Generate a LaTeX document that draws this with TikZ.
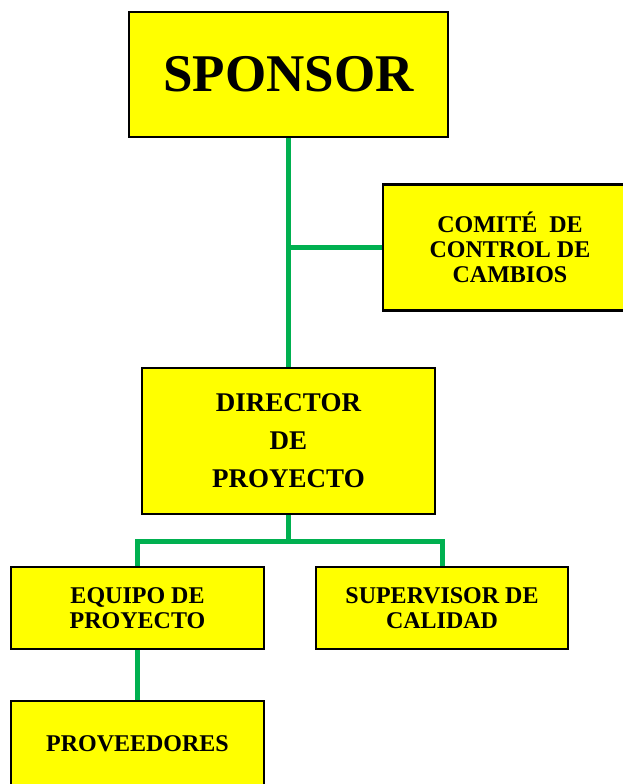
\documentclass[tikz,border=0pt]{standalone}
\usepackage{fontspec}
\setmainfont{Liberation Serif}
\definecolor{boxyellow}{HTML}{FFFF00}
\definecolor{linegreen}{HTML}{00B050}
\tikzset{
  orgbox/.style={draw=black, line width=2.4pt, fill=boxyellow, align=center, inner sep=0pt},
  link/.style={draw=linegreen, line width=5pt}
}
\begin{document}
\begin{tikzpicture}[x=1pt,y=-1pt]
\useasboundingbox (0,0) rectangle (623,784);
\node[orgbox, minimum width=319pt, minimum height=125pt, font=\fontsize{53}{60}\selectfont\bfseries] (sponsor) at (288.5,74.5) {SPONSOR};
\node[orgbox, minimum width=254pt, minimum height=126pt, font=\fontsize{24}{25}\selectfont\bfseries] (comite) at (510,247.5) {COMITÉ\ \ DE\\CONTROL DE\\CAMBIOS};
\node[orgbox, minimum width=293pt, minimum height=146pt, font=\fontsize{27}{38}\selectfont\bfseries] (director) at (288.5,441) {DIRECTOR\\DE\\PROYECTO};
\node[orgbox, minimum width=253pt, minimum height=82pt, font=\fontsize{24}{25}\selectfont\bfseries] (equipo) at (137.5,608) {EQUIPO DE\\PROYECTO};
\node[orgbox, minimum width=252pt, minimum height=82pt, font=\fontsize{24}{25}\selectfont\bfseries] (supervisor) at (442,608) {SUPERVISOR DE\\CALIDAD};
\node[orgbox, minimum width=253pt, minimum height=86pt, font=\fontsize{24}{25}\selectfont\bfseries] (proveedores) at (137.5,744) {PROVEEDORES};
\coordinate (j1) at (288.5,247.5);
\coordinate (j2) at (288.5,541);
\draw[link] (sponsor.south) -- (director.north);
\draw[link] (j1) -- (comite.west);
\draw[link] (director.south) -- (j2);
\draw[link] (equipo.north) |- (j2) -| (supervisor.north);
\draw[link] (equipo.south) -- (proveedores.north);
\end{tikzpicture}
\end{document}
